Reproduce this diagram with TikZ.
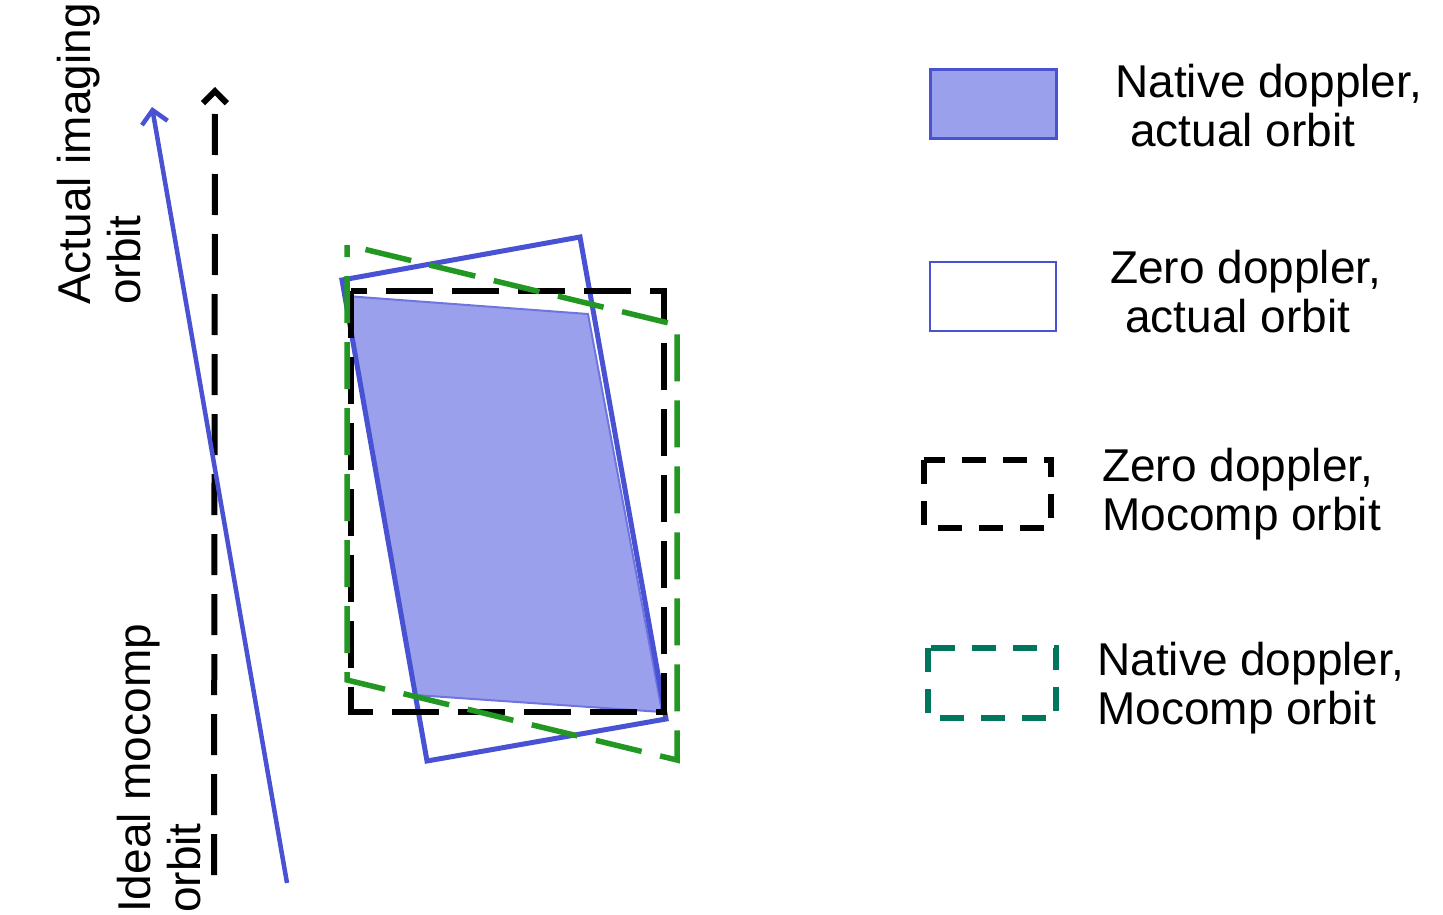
\documentclass[tikz,border=0pt]{standalone}
\usepackage{fontspec}
\setmainfont{Liberation Sans}
\usetikzlibrary{arrows.meta}
\definecolor{myblue}{RGB}{74,82,212}
\definecolor{myfill}{RGB}{155,160,236}
\definecolor{myedge}{RGB}{110,116,224}
\definecolor{mygreen}{RGB}{34,152,34}
\definecolor{myteal}{RGB}{0,118,92}
\begin{document}
\begin{tikzpicture}[x=1pt,y=-1pt,
  lbl/.style={inner sep=0pt, align=left, anchor=base west, font=\fontsize{46}{49.5}\selectfont},
  bluebox/.style={draw=myblue, line width=5pt, line join=miter},
  fillbox/.style={fill=myfill, draw=myedge, line width=2pt},
  blackdash/.style={draw=black, line width=6.5pt, dash pattern=on 47pt off 19pt},
  greendash/.style={draw=mygreen, line width=5.5pt, dash pattern=on 47pt off 19pt, dash phase=47pt},
  legblack/.style={draw=black, line width=6pt, dash pattern=on 24pt off 17pt},
  legteal/.style={draw=myteal, line width=6pt, dash pattern=on 24pt off 17pt},
  orbitline/.style={draw=myblue, line width=4.5pt, -{Straight Barb[length=13pt,width=26pt]}},
  idealline/.style={draw=black, line width=6pt, dash pattern=on 41pt off 19pt, -{Straight Barb[length=12pt,width=24pt]}}
]
\useasboundingbox (0,0) rectangle (1443,915);

% --- coordinates of the footprints ---
\coordinate (fTL) at (346,296);
\coordinate (fTR) at (588,314);
\coordinate (fBR) at (662,712);
\coordinate (fBL) at (415,695);

\coordinate (bTL) at (342,280);
\coordinate (bTR) at (580,237);
\coordinate (bBR) at (666,719);
\coordinate (bBL) at (427,761);

\coordinate (kTL) at (351,291);
\coordinate (kBR) at (664,712);

\coordinate (gTL) at (347,245);
\coordinate (gTR) at (677,325);
\coordinate (gBR) at (677,760);
\coordinate (gBL) at (347,680);

% --- orbits ---
\coordinate (iTail) at (214,875);
\coordinate (iTip) at (215,87);
\coordinate (aTail) at (287,883);
\coordinate (aTip) at (152,107);

\draw[idealline] (iTail) -- (iTip);
\draw[orbitline] (aTail) -- (aTip);

% anchor = baseline of the last line
\node[lbl, rotate=90] (actlbl) at (140,305) {Actual imaging\\orbit};
\node[lbl, rotate=90] (ideallbl) at (200,913) {Ideal mocomp\\orbit};

% --- footprints ---
\path[fillbox] (fTL) -- (fTR) -- (fBR) -- (fBL) -- cycle;
\path[bluebox] (bTL) -- (bTR) -- (bBR) -- (bBL) -- cycle;
\path[blackdash] (kTL) rectangle (kBR);
\path[greendash] (gTL) -- (gTR) -- (gBR) -- (gBL) -- cycle;

% --- legend ---
\path[fill=myfill, draw=myblue, line width=3pt] (930,70) rectangle (1056,139);
\path[draw=myblue, line width=2.5pt] (930,262) rectangle (1056,331);
\path[legblack] (924,460) rectangle (1051,528);
\path[legteal] (928,648) rectangle (1056,718);

\node[lbl] (leg1) at (1115,146.5) {Native doppler,\\\hspace*{15pt}actual orbit};
\node[lbl] (leg2) at (1110,332.5) {Zero doppler,\\\hspace*{15pt}actual orbit};
\node[lbl] (leg3) at (1102,530.5) {Zero doppler,\\Mocomp orbit};
\node[lbl] (leg4) at (1097,724.5) {Native doppler,\\Mocomp orbit};
\end{tikzpicture}
\end{document}
